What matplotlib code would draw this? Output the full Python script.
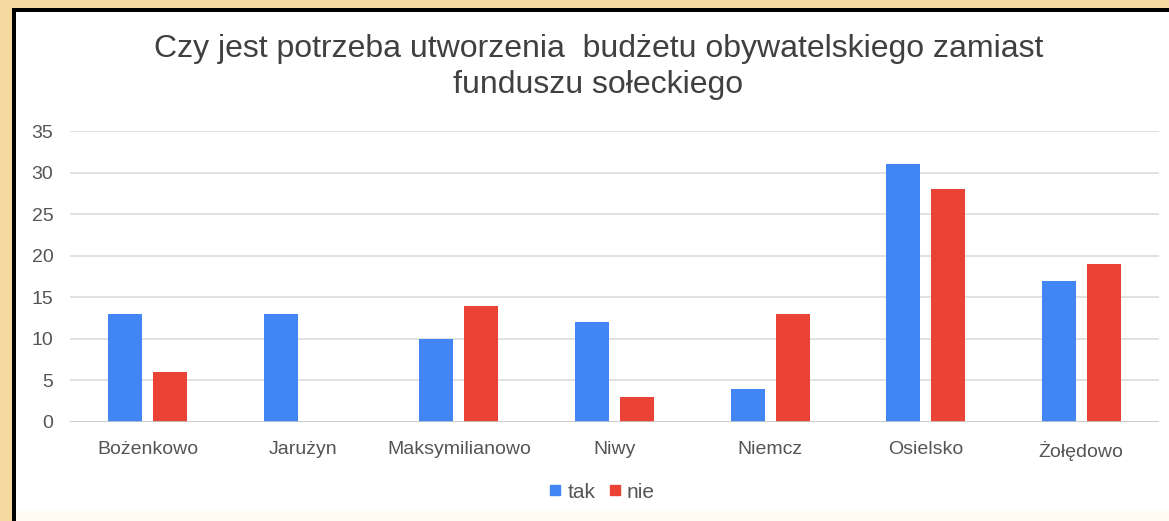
import matplotlib.pyplot as plt
import numpy as np
from matplotlib.patches import Rectangle
from matplotlib.lines import Line2D

plt.rcParams["font.family"] = ["Liberation Sans", "DejaVu Sans"]

villages = ["Bożenkowo", "Jarużyn", "Maksymilianowo", "Niwy", "Niemcz", "Osielsko", "Żołędowo"]
tak = [13, 13, 10, 12, 4, 31, 17]
nie = [6, 0, 14, 3, 13, 28, 19]
yticks = [0, 5, 10, 15, 20, 25, 30, 35]

BLUE = "#4285F4"
RED = "#EA4335"

fig = plt.figure(figsize=(11.69, 5.21), dpi=100)
fig.patch.set_facecolor("#F5D99F")

# black frame with white card inside
fig.patches.append(Rectangle((12 / 1169, 0), 1 - 12 / 1169, 1 - 8 / 521,
                             transform=fig.transFigure, facecolor="black", zorder=-3))
fig.patches.append(Rectangle((16 / 1169, 0), 1 - 16 / 1169, 1 - 12 / 521,
                             transform=fig.transFigure, facecolor="white", zorder=-2))
fig.patches.append(Rectangle((16 / 1169, 0), 1 - 16 / 1169, 10 / 521,
                             transform=fig.transFigure, facecolor="#FFFBF0", zorder=-1))

ax = fig.add_axes([70 / 1169, 1 - 422 / 521, 1089 / 1169, 291 / 521])
ax.set_zorder(1)
ax.set_facecolor("none")

x = np.arange(len(villages))
w = 0.2185
off = 0.1446
ax.bar(x - off, tak, width=w, color=BLUE, zorder=3)
ax.bar(x + off, nie, width=w, color=RED, zorder=3)

ax.set_xlim(-0.5, len(villages) - 0.5)
ax.set_ylim(0, 35)
ax.set_yticks(yticks)
ax.set_xticks(x)
ax.set_xticklabels(villages)
ax.tick_params(axis="both", length=0, labelsize=14, colors="#555555")
ax.tick_params(axis="y", pad=12)
ax.tick_params(axis="x", pad=14)
ax.grid(axis="y", color="#DCDCDC", linewidth=1.2, zorder=0)
ax.axhline(0, color="#C8C8C8", linewidth=1.2, zorder=4)
for s in ax.spines.values():
    s.set_visible(False)

fig.text(0.512, 1 - 67 / 521, "Czy jest potrzeba utworzenia  budżetu obywatelskiego zamiast\nfunduszu sołeckiego",
         ha="center", va="center", fontsize=23, color="#404040", linespacing=1.3)

handles = [Line2D([], [], marker="s", linestyle="none", color=BLUE, markersize=6.5),
           Line2D([], [], marker="s", linestyle="none", color=RED, markersize=6.5)]
fig.legend(handles, ["tak", "nie"], loc="center", bbox_to_anchor=(0.515, 1 - 492 / 521),
           ncol=2, frameon=False, fontsize=15, handlelength=0.6, handletextpad=0.3,
           columnspacing=0.6, labelcolor="#555555")

fig.savefig("out.png", dpi=100, facecolor=fig.get_facecolor())
